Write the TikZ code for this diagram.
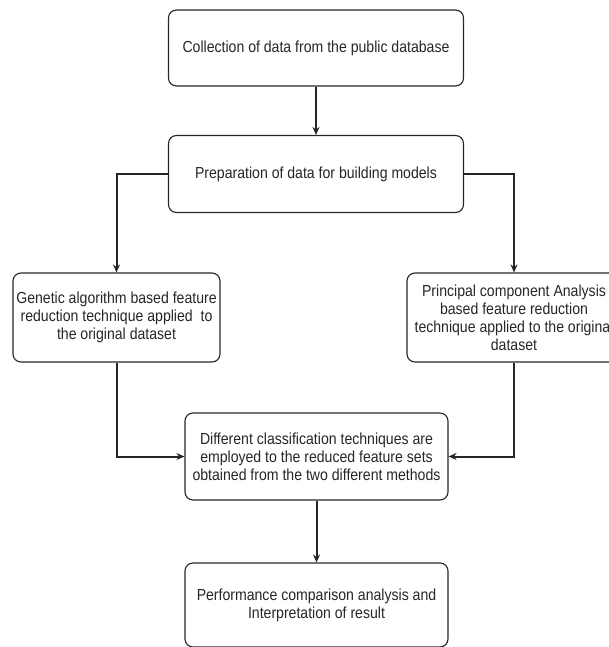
\documentclass[tikz,border=0pt]{standalone}
\usepackage{fontspec}
\setmainfont{Liberation Sans}[FakeStretch=0.88]
\usetikzlibrary{arrows.meta}
\begin{document}
\begin{tikzpicture}[x=1pt,y=-1pt,
  box/.style={draw=black!85,line width=1.1pt,rounded corners=8pt,align=center,inner sep=0pt,
    font=\fontsize{16}{18}\selectfont,text=black!85},
  conn/.style={draw=black!85,line width=2pt,-{Stealth[length=8pt,width=7pt]}}]
\useasboundingbox (0,0) rectangle (608,647);
\node[box,minimum width=295pt,minimum height=76pt] (b1) at (316,48) {Collection of data from the public database};
\node[box,minimum width=295pt,minimum height=77pt] (b2) at (316,174) {Preparation of data for building models};
\node[box,minimum width=207pt,minimum height=89pt] (b3) at (116.5,317.5) {Genetic algorithm based feature\\reduction technique applied\ \ to\\the original dataset};
\node[box,minimum width=214pt,minimum height=89pt] (b4) at (514,317.5) {Principal component Analysis\\based feature reduction\\technique applied to the original\\dataset};
\node[box,minimum width=263pt,minimum height=87pt] (b5) at (316.5,456.5) {Different classification techniques are\\employed to the reduced feature sets\\obtained from the two different methods};
\node[box,minimum width=263pt,minimum height=84pt] (b6) at (316.5,605) {Performance comparison analysis and\\Interpretation of result};
\draw[conn] (b1) -- (b2);
\draw[conn] (b2.west) -| (b3.north);
\draw[conn] (b2.east) -| (b4.north);
\draw[conn] (b3.south) |- (b5.west);
\draw[conn] (b4.south) |- (b5.east);
\draw[conn] (b5) -- (b6);
\end{tikzpicture}
\end{document}
